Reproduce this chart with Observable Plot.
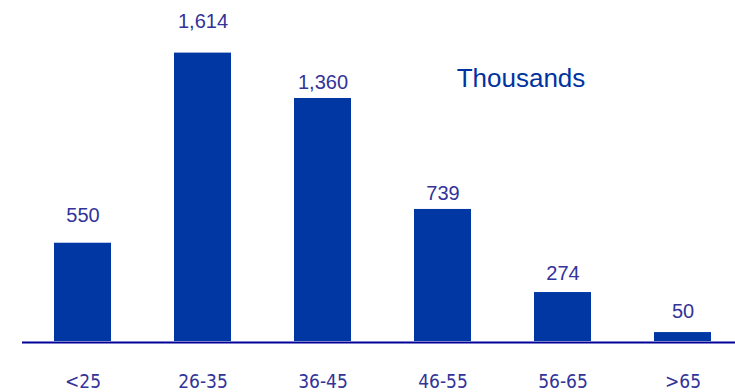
<!DOCTYPE html>
<html>
<head>
<meta charset="utf-8">
<script src="https://cdn.jsdelivr.net/npm/d3@7"></script>
<script src="https://cdn.jsdelivr.net/npm/@observablehq/plot@0.6"></script>
<style>
  html, body { margin: 0; padding: 0; background: #fff; }
  #chart { width: 735px; height: 392px; overflow: hidden; }
</style>
</head>
<body>
<div id="chart"></div>
<script>
const ageGroups = ["<25", "26-35", "36-45", "46-55", "56-65", ">65"];
const values = [550, 1614, 1360, 739, 274, 50];
const unitLabel = "Thousands";

const data = ageGroups.map((g, i) => ({group: g, value: values[i]}));

// gap (px) between each value label's baseline and its bar top, as placed in the original slide
const labelGaps = [21, 25, 9, 9, 13, 15];

const chart = Plot.plot({
  width: 735,
  height: 392,
  marginLeft: 22,
  marginRight: 0,
  marginTop: 0,
  marginBottom: 0,
  style: {background: "#fff", overflow: "visible"},
  x: {domain: ageGroups, range: [22, 742], paddingInner: 0.525, paddingOuter: 0.2625, axis: null},
  y: {domain: [0, 1614], range: [341, 52.6], axis: null},
  marks: [
    Plot.barY(data, {x: "group", y: "value", fill: "#0037a3"}),
    Plot.ruleY([0], {stroke: "#000099", strokeWidth: 2, dy: 1}),
    ...data.map((d, i) => Plot.text([d], {
      x: "group", y: "value",
      text: r => d3.format(",")(r.value),
      lineAnchor: "middle", dy: -(labelGaps[i] + 6.4),
      fill: "#333399", fontSize: 20,
      fontFamily: "Liberation Sans, Arial, sans-serif"
    })),
    Plot.text(data, {
      x: "group", y: 0,
      text: "group",
      lineAnchor: "middle", dy: 40,
      fill: "#333399", fontSize: 19,
      fontFamily: "DejaVu Sans Condensed, DejaVu Sans, sans-serif"
    }),
    Plot.text([unitLabel], {
      x: () => "46-55", y: () => 1614,
      text: d => d,
      dx: 78, dy: 26,
      lineAnchor: "middle",
      fill: "#0033a0", fontSize: 26,
      fontFamily: "Liberation Sans, Arial, sans-serif"
    })
  ]
});
document.getElementById("chart").appendChild(chart);
</script>
</body>
</html>
